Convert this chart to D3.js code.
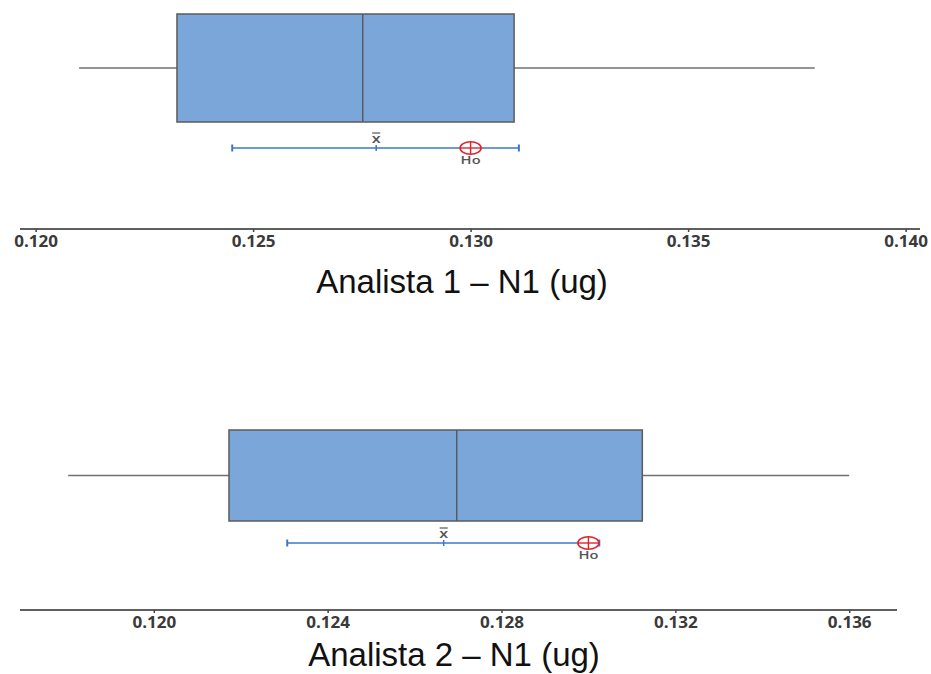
<!DOCTYPE html>
<html>
<head>
<meta charset="utf-8">
<script src="https://cdn.jsdelivr.net/npm/d3@7"></script>
<style>
  html, body { margin: 0; padding: 0; background: #fff; }
  svg { display: block; }
</style>
</head>
<body>
<svg id="chart" width="931" height="674"></svg>
<script>
// One-sample summary: boxplot with mean confidence interval and H0 reference
const groups = ["Analista 1 – N1 (ug)", "Analista 2 – N1 (ug)"];
const whiskerLow  = [0.12100, 0.11803];
const q1          = [0.12325, 0.12173];
const median      = [0.12752, 0.12697];
const q3          = [0.13100, 0.13124];
const whiskerHigh = [0.13791, 0.13600];
const meanVals    = [0.12783, 0.12667];
const ciLow       = [0.12452, 0.12307];
const ciHigh      = [0.13111, 0.13025];
const h0          = [0.130, 0.130];
const domains     = [[0.120, 0.140], [0.120, 0.136]];
const tickSets    = [[0.120, 0.125, 0.130, 0.135, 0.140],
                     [0.120, 0.124, 0.128, 0.132, 0.136]];

// Panel layout (pixels)
const panels = [
  { range: [35.6, 905.6], axisY: 229, axisX: [20, 920], boxTop: 14, boxBot: 122,
    ciY: 148, titleX: 462, titleY: 293 },
  { range: [153.8, 849.2], axisY: 610, axisX: [20, 897], boxTop: 430, boxBot: 521,
    ciY: 543, titleX: 454, titleY: 666 }
];

const svg = d3.select("#chart");
const BOX_FILL = "#7ba6d9", BOX_STROKE = "#5b5b5b", WHISK = "#707070";
const CI_COL = "#3a79c6", H0_COL = "#e0232b", AXIS_COL = "#5f5f5f";
const LABEL_FONT = "'Open Sans', 'DejaVu Sans', sans-serif";

groups.forEach((name, i) => {
  const p = panels[i];
  const x = d3.scaleLinear().domain(domains[i]).range(p.range);
  const g = svg.append("g");
  const midY = (p.boxTop + p.boxBot) / 2;

  // whiskers
  g.append("line").attr("x1", x(whiskerLow[i])).attr("x2", x(q1[i]))
    .attr("y1", midY).attr("y2", midY).attr("stroke", WHISK).attr("stroke-width", 1.5);
  g.append("line").attr("x1", x(q3[i])).attr("x2", x(whiskerHigh[i]))
    .attr("y1", midY).attr("y2", midY).attr("stroke", WHISK).attr("stroke-width", 1.5);

  // box
  g.append("rect").attr("x", x(q1[i])).attr("y", p.boxTop)
    .attr("width", x(q3[i]) - x(q1[i])).attr("height", p.boxBot - p.boxTop)
    .attr("fill", BOX_FILL).attr("stroke", BOX_STROKE).attr("stroke-width", 1.5);
  g.append("line").attr("x1", x(median[i])).attr("x2", x(median[i]))
    .attr("y1", p.boxTop).attr("y2", p.boxBot)
    .attr("stroke", BOX_STROKE).attr("stroke-width", 1.5);

  // confidence interval for the mean
  g.append("line").attr("x1", x(ciLow[i])).attr("x2", x(ciHigh[i]))
    .attr("y1", p.ciY).attr("y2", p.ciY).attr("stroke", CI_COL).attr("stroke-width", 1.5);
  [ciLow[i], ciHigh[i]].forEach(v => {
    g.append("line").attr("x1", x(v)).attr("x2", x(v))
      .attr("y1", p.ciY - 3.5).attr("y2", p.ciY + 3.5)
      .attr("stroke", CI_COL).attr("stroke-width", 2);
  });
  g.append("line").attr("x1", x(meanVals[i])).attr("x2", x(meanVals[i]))
    .attr("y1", p.ciY - 3).attr("y2", p.ciY + 3)
    .attr("stroke", CI_COL).attr("stroke-width", 1.5);

  // mean label (x-bar)
  const mx = x(meanVals[i]);
  const xl = g.append("g").attr("transform", `translate(${mx},${p.ciY - 5}) scale(1.35,1)`);
  xl.append("text").attr("text-anchor", "middle").attr("y", 0)
    .attr("font-family", LABEL_FONT)
    .attr("font-size", 12).attr("font-weight", 600).attr("fill", "#555").text("x");
  xl.append("line").attr("x1", -3).attr("x2", 3).attr("y1", -10).attr("y2", -10)
    .attr("stroke", "#555").attr("stroke-width", 1.2);

  // H0 marker
  const hx = x(h0[i]);
  g.append("ellipse").attr("cx", hx).attr("cy", p.ciY).attr("rx", 10.5).attr("ry", 6.2)
    .attr("fill", "#fff").attr("stroke", H0_COL).attr("stroke-width", 1.6);
  g.append("line").attr("x1", hx - 10.5).attr("x2", hx + 10.5)
    .attr("y1", p.ciY).attr("y2", p.ciY).attr("stroke", H0_COL).attr("stroke-width", 1.4);
  g.append("line").attr("x1", hx).attr("x2", hx)
    .attr("y1", p.ciY - 6.2).attr("y2", p.ciY + 6.2).attr("stroke", H0_COL).attr("stroke-width", 1.4);
  g.append("text").attr("transform", `translate(${hx},${p.ciY + 16}) scale(1.4,1)`)
    .attr("text-anchor", "middle")
    .attr("font-family", LABEL_FONT)
    .attr("font-size", 10.5).attr("font-weight", 600).attr("fill", "#555").text("Ho");

  // axis
  g.append("line").attr("x1", p.axisX[0]).attr("x2", p.axisX[1])
    .attr("y1", p.axisY).attr("y2", p.axisY).attr("stroke", AXIS_COL).attr("stroke-width", 2);
  const axis = d3.axisBottom(x).tickValues(tickSets[i]).tickFormat(d3.format(".3f"))
    .tickSize(3).tickPadding(4).tickSizeOuter(0);
  const ag = g.append("g").attr("transform", `translate(0,${p.axisY})`).call(axis);
  ag.select(".domain").remove();
  ag.selectAll(".tick line").attr("stroke", "#444").attr("stroke-width", 1.5);
  ag.selectAll(".tick text")
    .attr("font-family", LABEL_FONT)
    .attr("font-size", 15.5).attr("font-weight", 700).attr("fill", "#3a3a3a")
    .attr("transform", "scale(1.1,1)");

  // axis title
  g.append("text").attr("x", p.titleX).attr("y", p.titleY).attr("text-anchor", "middle")
    .attr("font-family", "'Liberation Sans', Arial, sans-serif")
    .attr("font-size", 33).attr("fill", "#111").text(name);
});
</script>
</body>
</html>
